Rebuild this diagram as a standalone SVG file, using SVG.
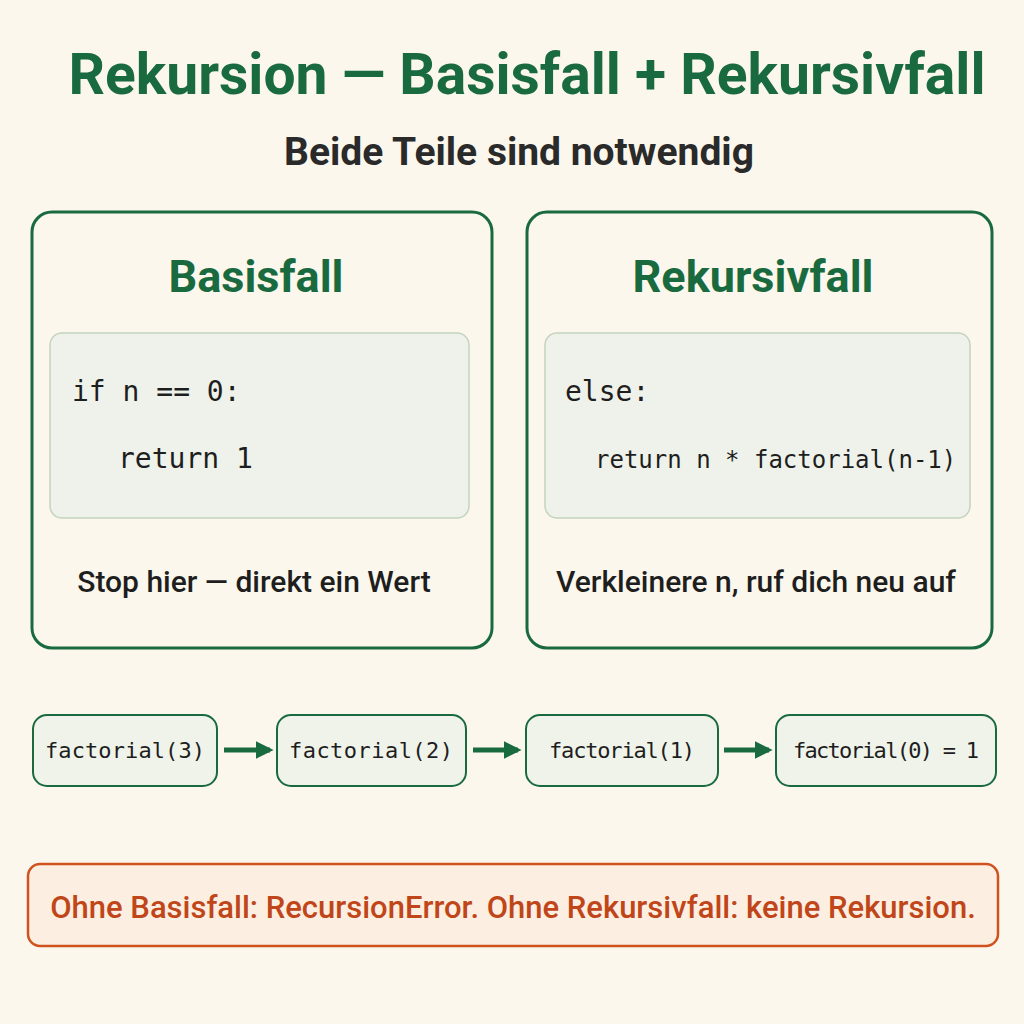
<svg xmlns="http://www.w3.org/2000/svg" width="1024" height="1024" viewBox="0 0 1024 1024">
<defs>
<style>
.panel{fill:#FBF7EC;stroke:#1A6A40;stroke-width:3}
.code{fill:#EEF2EA;stroke:#C5D3BF;stroke-width:1.5}
.chain{fill:#EFF3EA;stroke:#1A6A40;stroke-width:2}
.mono{font-family:"DejaVu Sans Mono","Liberation Mono",monospace;fill:#1E1E1E}
.sans{font-family:Roboto,"Liberation Sans",sans-serif}
.conn{stroke:#1A6A40;stroke-width:5;fill:none}
</style>
<marker id="ah" viewBox="0 0 10 10" refX="8" refY="5" markerWidth="3.6" markerHeight="3.6" orient="auto"><path d="M0,0L10,5L0,10z" fill="#1A6A40"/></marker>
</defs>
<rect width="1024" height="1024" fill="#FBF7EC"/>
<text x="527" y="94" text-anchor="middle" class="sans" font-size="57" font-weight="bold" fill="#1A6A40">Rekursion — Basisfall + Rekursivfall</text>
<text x="519" y="165" text-anchor="middle" class="sans" font-size="39" font-weight="bold" fill="#2A2A2A">Beide Teile sind notwendig</text>
<g id="basisfall">
<rect class="panel" x="32" y="212" width="460" height="436" rx="20"/>
<text x="256" y="292" text-anchor="middle" class="sans" font-size="45" font-weight="bold" fill="#1A6A40">Basisfall</text>
<rect class="code" x="50" y="333" width="419" height="185" rx="12"/>
<text x="72" y="401" class="mono" font-size="28">if n == 0:</text>
<text x="118" y="468" class="mono" font-size="28">return 1</text>
<text x="254" y="592" text-anchor="middle" class="sans" font-size="30" font-weight="500" fill="#1E1E1E">Stop hier — direkt ein Wert</text>
</g>
<g id="rekursivfall">
<rect class="panel" x="527" y="212" width="465" height="436" rx="20"/>
<text x="753" y="292" text-anchor="middle" class="sans" font-size="45" font-weight="bold" fill="#1A6A40">Rekursivfall</text>
<rect class="code" x="545" y="333" width="425" height="185" rx="12"/>
<text x="565" y="401" class="mono" font-size="28">else:</text>
<text x="595" y="468" class="mono" font-size="24">return n * factorial(n-1)</text>
<text x="756" y="592" text-anchor="middle" class="sans" font-size="30" font-weight="500" fill="#1E1E1E">Verkleinere n, ruf dich neu auf</text>
</g>
<g id="f3"><rect class="chain" x="33" y="715" width="184" height="71" rx="14"/><text x="125" y="758" text-anchor="middle" class="mono" font-size="22" textLength="160">factorial(3)</text></g>
<g id="f2"><rect class="chain" x="277" y="715" width="189" height="71" rx="14"/><text x="371" y="758" text-anchor="middle" class="mono" font-size="22" textLength="164">factorial(2)</text></g>
<g id="f1"><rect class="chain" x="526" y="715" width="192" height="71" rx="14"/><text x="622" y="758" text-anchor="middle" class="mono" font-size="22" textLength="146">factorial(1)</text></g>
<g id="f0"><rect class="chain" x="776" y="715" width="220" height="71" rx="14"/><text x="886" y="758" text-anchor="middle" class="mono" font-size="22" textLength="186">factorial(0) = 1</text></g>
<g id="connectors">
<line class="conn" x1="224" y1="750" x2="270" y2="750" marker-end="url(#ah)"/>
<line class="conn" x1="473" y1="750" x2="518" y2="750" marker-end="url(#ah)"/>
<line class="conn" x1="724" y1="750" x2="769" y2="750" marker-end="url(#ah)"/>
</g>
<g id="note">
<rect x="28" y="864" width="970" height="82" rx="12" fill="#FCEFE1" stroke="#D0531F" stroke-width="2.5"/>
<text x="513" y="918" text-anchor="middle" class="sans" font-size="31" font-weight="500" fill="#C0461A">Ohne Basisfall: RecursionError. Ohne Rekursivfall: keine Rekursion.</text>
</g>
</svg>
